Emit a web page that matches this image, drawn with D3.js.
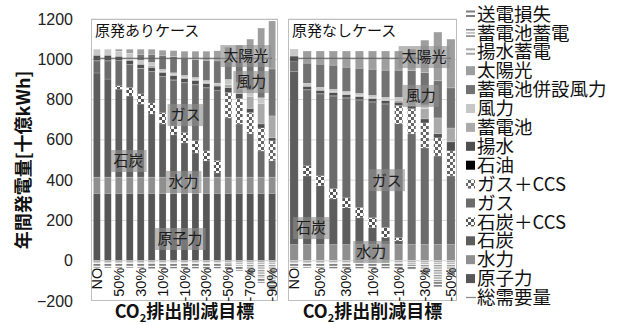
<!DOCTYPE html>
<html><head><meta charset="utf-8">
<script src="https://cdn.jsdelivr.net/npm/d3@7"></script>
<style>body{margin:0;background:#fff}</style>
</head><body><svg id="c" width="623" height="325"></svg>
<script>
// ---------- DATA ----------
const catsA = ["NO","60%","50%","40%","30%","20%","10%","0%","-10%","-20%","-30%","-40%","-50%","-60%","-70%","-80%","-90%"];
const catsB = ["NO","60%","50%","40%","30%","20%","10%","0%","-10%","-20%","-30%","-40%","-50%"];

// 原発ありケース
const A_nuclear  = [335,335,335,335,335,335,335,335,335,335,335,335,335,335,335,335,335];
const A_hydro    = [80,80,80,80,80,80,80,80,80,80,80,80,80,80,80,80,80];
const A_coal     = [517,487,437,403,363,314,264,210,170,120,81,21,0,0,0,0,0];
const A_coalCCS  = [0,0,16,41,50,54,55,44,50,60,49,60,0,0,0,0,0];
const A_gas      = [60,90,125,114,125,155,179,227,248,278,313,349,294,264,215,130,81];
const A_gasCCS   = [0,0,0,0,0,0,0,0,0,0,0,0,124,124,104,114,99];
const A_oil      = [3,3,2,2,2,2,2,2,2,2,2,2,2,2,2,0,0];
const A_pumped   = [25,25,20,20,20,20,20,20,20,20,20,20,25,25,20,20,15];
const A_battery  = [0,0,0,0,0,10,5,5,5,5,5,5,15,25,60,100,109];
const A_wind     = [30,30,25,35,20,15,10,10,10,10,10,10,25,30,30,30,0];
const A_windBatt = [0,0,0,0,30,40,70,80,85,90,100,110,90,105,140,180,233];
const A_solar    = [0,0,10,20,25,25,25,30,35,40,45,50,70,80,114,166,238];
const A_pumpCharge = [-10,-10,-10,-10,-10,-10,-10,-10,-10,-10,-10,-10,-10,-10,-10,-10,-10];
const A_battCharge = [0,0,0,0,0,-5,-3,-3,-3,-3,-3,-3,-8,-15,-35,-75,-110];
const A_loss       = [-25,-25,-25,-25,-25,-25,-25,-25,-25,-25,-25,-25,-25,-25,-25,-25,-25];
const A_demand     = [1005,1005,1005,1005,1005,1005,1005,1005,1005,1005,1005,1005,1005,1005,1005,1005,1005];

// 原発なしケース
const B_nuclear  = [0,0,0,0,0,0,0,0,0,0,0,0,0];
const B_hydro    = [80,80,80,80,80,80,80,80,80,80,80,80,80];
const B_coal     = [858,341,292,227,183,133,84,34,19,0,0,0,0];
const B_coalCCS  = [0,50,49,50,49,50,49,50,15,0,0,0,0];
const B_gas      = [50,377,407,459,494,533,573,612,566,550,480,440,341];
const B_gasCCS   = [0,0,0,0,0,0,0,0,90,123,124,90,124];
const B_oil      = [3,3,3,3,3,3,3,3,2,2,0,0,0];
const B_pumped   = [25,15,15,15,15,15,15,15,15,15,20,20,45];
const B_battery  = [0,0,0,5,5,5,5,5,10,20,50,79,69];
const B_wind     = [35,15,15,12,12,12,12,12,14,15,20,0,0];
const B_windBatt = [0,100,115,120,120,125,130,135,135,140,160,184,199];
const B_solar    = [0,60,65,70,80,85,90,95,95,105,161,242,242];
const B_pumpCharge = [-10,-10,-10,-10,-10,-10,-10,-10,-10,-10,-10,-10,-10];
const B_battCharge = [0,0,0,-3,-3,-3,-3,-3,-5,-10,-35,-95,-45];
const B_loss       = [-25,-25,-25,-25,-25,-25,-25,-25,-25,-25,-25,-25,-25];
const B_demand     = [1005,1005,1005,1005,1005,1005,1005,1005,1005,1005,1005,1005,1005];

const yTicks = [-200,0,200,400,600,800,1000,1200];

// in-chart data labels: text, category position (index), value
const A_labelText = ["太陽光","風力","ガス","石炭","水力","原子力"];
const A_labelIdx  = [13.6,14.1,8.1,2.9,7.9,7.6];
const A_labelVal  = [1016,887,723,495,391,108];
const B_labelText = ["太陽光","風力","ガス","石炭","水力"];
const B_labelIdx  = [9.95,9.7,7.1,1.3,5.9];
const B_labelVal  = [1011,818,400,162,43];

const seriesKeys = ["原子力","水力","石炭","石炭＋CCS","ガス","ガス＋CCS","石油","揚水","蓄電池","風力","蓄電池併設風力","太陽光","揚水蓄電","蓄電池蓄電","送電損失"];
const legendKeys = ["送電損失","蓄電池蓄電","揚水蓄電","太陽光","蓄電池併設風力","風力","蓄電池","揚水","石油","ガス＋CCS","ガス","石炭＋CCS","石炭","水力","原子力","総需要量"];

// ---------- DRAW ----------
const svg = d3.select("#c");
const defs = svg.append("defs");
function checker(id, c){
  const p = defs.append("pattern").attr("id",id).attr("width",6).attr("height",6).attr("patternUnits","userSpaceOnUse");
  p.append("rect").attr("width",6).attr("height",6).attr("fill","#fbfbfb");
  p.append("rect").attr("width",3).attr("height",3).attr("fill",c);
  p.append("rect").attr("x",3).attr("y",3).attr("width",3).attr("height",3).attr("fill",c);
}
function stripes(id, c, h, t){
  const p = defs.append("pattern").attr("id",id).attr("width",8).attr("height",h).attr("patternUnits","userSpaceOnUse");
  p.append("rect").attr("width",8).attr("height",h).attr("fill","#f4f4f4");
  p.append("rect").attr("width",8).attr("height",t).attr("fill",c);
}
checker("pCoalCCS","#555");
checker("pGasCCS","#666");
stripes("pPump","#b0b0b0",3,1.6);
stripes("pBatt","#999",2.5,1.2);
stripes("pLoss","#7f7f7f",3,1.8);

const colors = {
  "原子力":"#565656","水力":"#8f8f8f","石炭":"#5d5d5d","石炭＋CCS":"url(#pCoalCCS)",
  "ガス":"#6b6b6b","ガス＋CCS":"url(#pGasCCS)","石油":"#000000","揚水":"#4f4f4f",
  "蓄電池":"#aaaaaa","風力":"#c7c7c7","蓄電池併設風力":"#727272","太陽光":"#9e9e9e",
  "揚水蓄電":"url(#pPump)","蓄電池蓄電":"url(#pBatt)","送電損失":"url(#pLoss)"
};

const y = d3.scaleLinear().domain([-200,1200]).range([301,19]);

function buildRows(cats, arrs){
  return cats.map((c,i)=>{
    const r = {cat:c};
    seriesKeys.forEach((k,j)=> r[k] = arrs[j][i]);
    return r;
  });
}

const panels = [
  {cats:catsA, range:[91,278], po:0.22, title:"原発ありケース",
   arrs:[A_nuclear,A_hydro,A_coal,A_coalCCS,A_gas,A_gasCCS,A_oil,A_pumped,A_battery,A_wind,A_windBatt,A_solar,A_pumpCharge,A_battCharge,A_loss],
   demand:A_demand, lt:A_labelText, li:A_labelIdx, lv:A_labelVal},
  {cats:catsB, range:[288,457], po:0.15, title:"原発なしケース",
   arrs:[B_nuclear,B_hydro,B_coal,B_coalCCS,B_gas,B_gasCCS,B_oil,B_pumped,B_battery,B_wind,B_windBatt,B_solar,B_pumpCharge,B_battCharge,B_loss],
   demand:B_demand, lt:B_labelText, li:B_labelIdx, lv:B_labelVal}
];

const jp = "'Noto Sans CJK JP', sans-serif";
const lat = "'Liberation Sans', Arial, sans-serif";

panels.forEach((P, pi)=>{
  const x = d3.scaleBand().domain(P.cats).range(P.range).paddingInner(0.37).paddingOuter(P.po);
  const g = svg.append("g");
  // gridlines
  g.selectAll("line.grid").data(yTicks.filter(v=>v>-200)).join("line")
    .attr("x1",P.range[0]).attr("x2",P.range[1]).attr("y1",d=>y(d)).attr("y2",d=>y(d))
    .attr("stroke","#d9d9d9").attr("stroke-width",1);
  // frame
  g.append("rect").attr("x",P.range[0]+0.5).attr("y",y(1200)+0.5)
    .attr("width",P.range[1]-P.range[0]-1).attr("height",y(-200)-y(1200)-1)
    .attr("fill","none").attr("stroke","#bfbfbf");

  const rows = buildRows(P.cats, P.arrs);
  const stack = d3.stack().keys(seriesKeys).offset(d3.stackOffsetDiverging)(rows);
  g.selectAll("g.s").data(stack).join("g")
    .attr("fill", d=>colors[d.key])
    .selectAll("rect").data(d=>d).join("rect")
    .attr("x", d=>x(d.data.cat)).attr("width", x.bandwidth())
    .attr("y", d=>y(Math.max(d[0],d[1]))).attr("height", d=>Math.abs(y(d[0])-y(d[1])))
    .attr("stroke","rgba(255,255,255,0.35)").attr("stroke-width",0.5);

  // demand line
  const line = d3.line().x((d,i)=>x(P.cats[i])+x.bandwidth()/2).y(d=>y(d));
  g.append("path").attr("d", line(P.demand)).attr("fill","none").attr("stroke","#5a5a5a").attr("stroke-width",1.1);

  // x axis labels
  const ax = d3.axisBottom(x).tickValues(P.cats.filter((c,i)=>i%2===0)).tickSize(0);
  const axg = g.append("g").attr("transform",`translate(0,${y(0)})`).call(ax);
  axg.select(".domain").remove();
  axg.selectAll("text").attr("transform","rotate(-90)").attr("x",-7).attr("y",0).attr("dy","0.35em")
    .style("text-anchor","end").style("font-family",lat).style("font-size","14.5px").attr("fill","#111");

  // panel title
  g.append("text").attr("x",P.range[0]+4).attr("y",36).text(P.title)
    .style("font-family",jp).style("font-size","15px").attr("fill","#111");

  // data labels
  const step = x.step();
  P.lt.forEach((t,i)=>{
    const cx = x(P.cats[0]) + x.bandwidth()/2 + P.li[i]*step;
    const cy = y(P.lv[i]);
    const w = t.length*15+6, h = 22;
    g.append("rect").attr("x",cx-w/2).attr("y",cy-h/2).attr("width",w).attr("height",h)
      .attr("fill","rgba(140,140,140,0.62)");
    g.append("text").attr("x",cx).attr("y",cy).attr("dy","0.36em").attr("text-anchor","middle")
      .text(t).style("font-family",jp).style("font-size","15px").attr("fill","#1e1e1e");
  });

  // x title
  const xt = svg.append("text").attr("x",(P.range[0]+P.range[1])/2).attr("y",318).attr("text-anchor","middle")
    .style("font-family",jp).style("font-size","18px").style("font-weight","bold").attr("fill","#111");
  xt.append("tspan").text("CO");
  xt.append("tspan").attr("dy",4).style("font-size","11px").text("2");
  xt.append("tspan").attr("dy",-4).text("排出削減目標");

  if(pi===0){
    const ya = d3.axisLeft(y).tickValues(yTicks).tickSize(0).tickPadding(18).tickFormat(d3.format("d"));
    const yg = svg.append("g").attr("transform",`translate(${P.range[0]},0)`).call(ya);
    yg.select(".domain").remove();
    yg.selectAll("text").style("font-family",lat).style("font-size","16px").attr("fill","#222");
  }
});

// y title
svg.append("text").attr("transform","translate(24,160) rotate(-90)").attr("text-anchor","middle").attr("dy","0.35em")
  .text("年間発電量[十億kWh]").style("font-family",jp).style("font-size","18px").style("font-weight","bold").attr("fill","#111");

// legend
const lg = svg.append("g");
legendKeys.forEach((k,i)=>{
  const cy = 14 + i*18.9;
  const sx = 466;
  if(k==="送電損失" || k==="揚水蓄電"){
    const c = k==="送電損失" ? "#7f7f7f" : "#a8a8a8";
    lg.append("rect").attr("x",sx).attr("y",cy-3.5).attr("width",9).attr("height",2).attr("fill",c);
    lg.append("rect").attr("x",sx).attr("y",cy+1).attr("width",9).attr("height",2).attr("fill",c);
  } else if(k==="蓄電池蓄電"){
    lg.append("rect").attr("x",sx).attr("y",cy-4).attr("width",9).attr("height",1.6).attr("fill","#888");
    lg.append("rect").attr("x",sx).attr("y",cy-0.8).attr("width",9).attr("height",1.6).attr("fill","#bbb");
    lg.append("rect").attr("x",sx).attr("y",cy+2.4).attr("width",9).attr("height",1.6).attr("fill","#888");
  } else if(k==="総需要量"){
    lg.append("line").attr("x1",sx).attr("x2",sx+10).attr("y1",cy).attr("y2",cy).attr("stroke","#8a8a8a").attr("stroke-width",1.3);
  } else {
    lg.append("rect").attr("x",sx).attr("y",cy-4.5).attr("width",9).attr("height",9).attr("fill",colors[k]);
  }
  lg.append("text").attr("x",477).attr("y",cy).attr("dy","0.36em").text(k)
    .style("font-family",jp).style("font-size","18.5px").attr("fill","#111");
});
</script></body></html>
